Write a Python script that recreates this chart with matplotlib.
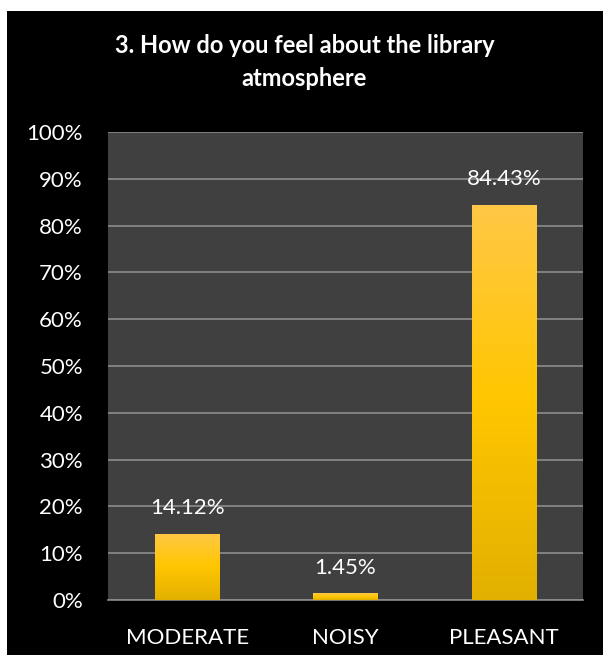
import matplotlib.pyplot as plt
import numpy as np
from matplotlib.colors import LinearSegmentedColormap
from matplotlib.patches import Rectangle

# Dados do gráfico
categorias = ['MODERATE', 'NOISY', 'PLEASANT']
percentuais = [14.12, 1.45, 84.43]
titulo = '3. How do you feel about the library\natmosphere'

plt.rcParams['font.family'] = ['Lato', 'DejaVu Sans']

fig = plt.figure(figsize=(6.09, 6.62), dpi=100, facecolor='white')

# fundo preto do gráfico
fig.patches.append(Rectangle((7 / 609, 7 / 662), 596 / 609, 644 / 662,
                             transform=fig.transFigure, facecolor='black',
                             edgecolor='none', zorder=0))

ax = fig.add_axes([108 / 609, 62 / 662, 475 / 609, 468 / 662])
ax.set_zorder(2)
ax.set_facecolor('#404040')

x = np.arange(len(categorias))
barras = ax.bar(x, percentuais, width=0.405, color='#FFC000', zorder=3)

# degradê nas barras
cmap = LinearSegmentedColormap.from_list('ouro', ['#E2B000', '#FFC600', '#FFC846'])
grad = np.linspace(0, 1, 256).reshape(-1, 1)
for b in barras:
    x0, y0 = b.get_x(), b.get_y()
    w, h = b.get_width(), b.get_height()
    im = ax.imshow(grad, cmap=cmap, aspect='auto', origin='lower',
                   extent=[x0, x0 + w, y0, y0 + h], zorder=4)
    im.set_clip_path(b)

for xi, v in zip(x, percentuais):
    ax.text(xi, v + 3.3, f'{v:.2f}%', ha='center', va='bottom',
            color='white', fontsize=16, zorder=5)

ax.set_xlim(-0.5, 2.5)
ax.set_ylim(0, 100)
ax.set_yticks(np.arange(0, 101, 10))
ax.set_yticklabels([f'{t}%' for t in range(0, 101, 10)])
ax.set_xticks(x)
ax.set_xticklabels(categorias)
ax.tick_params(colors='white', labelsize=16, length=0)
ax.tick_params(axis='y', pad=18)
ax.tick_params(axis='x', pad=20)
ax.grid(axis='y', color='#8c8c8c', linewidth=1.2, zorder=1)
for s in ['top', 'right', 'left']:
    ax.spines[s].set_visible(False)
ax.spines['bottom'].set_color('#8c8c8c')
ax.spines['bottom'].set_linewidth(1.2)

fig.text(0.5, 1 - 62 / 662, titulo, ha='center', va='center', color='white',
         fontsize=17, fontweight='bold', linespacing=1.55)

fig.savefig('out.png', dpi=100, facecolor='white')
